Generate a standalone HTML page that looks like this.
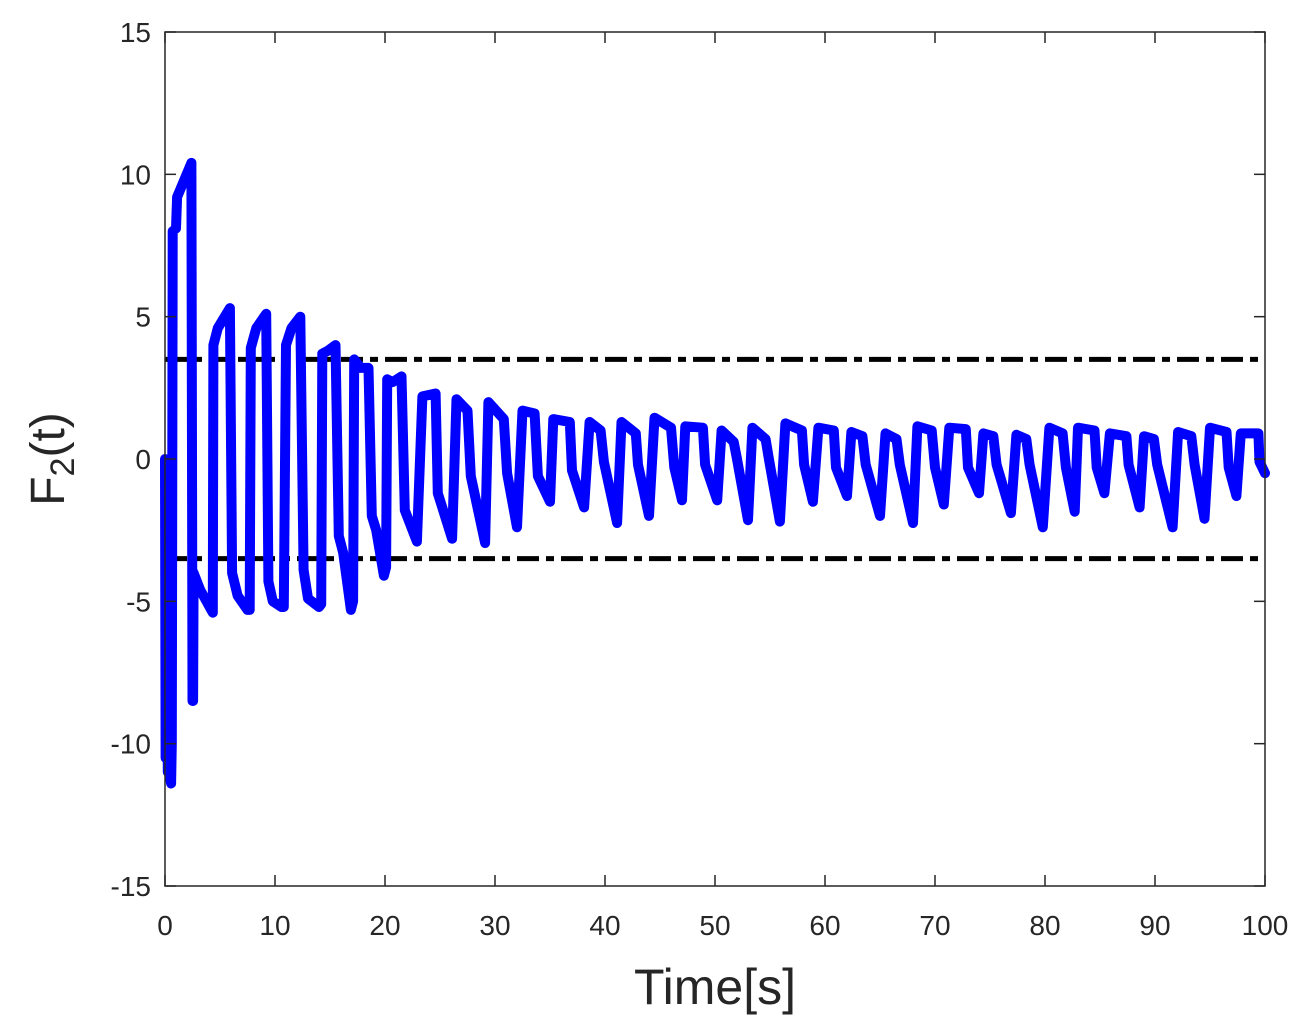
<!DOCTYPE html>
<html><head><meta charset="utf-8"><style>
body{margin:0;background:#fff;}
svg{display:block;font-family:"Liberation Sans",sans-serif;}
</style></head><body>
<svg id="chart" width="1302" height="1033">
<rect x="0" y="0" width="1302" height="1033" fill="#fff"/>
<g id="plot"></g>
<g id="axes"></g>
<text x="715" y="1004" font-size="50" text-anchor="middle" fill="#262626">Time[s]</text>
<text transform="translate(64,459) rotate(-90)" font-size="48" text-anchor="middle" fill="#262626">F<tspan font-size="34" dy="10">2</tspan><tspan dy="-10">(t)</tspan></text>
</svg>
<script>
const xTicks=[0,10,20,30,40,50,60,70,80,90,100];
const yTicks=[-15,-10,-5,0,5,10,15];
const boundValues=[3.5,-3.5];
const seriesT=[0,0.05,0.15,0.25,0.35,0.45,0.55,0.62,0.7,1.0,1.1,2.4,2.5,2.55,2.6,3.2,4.2,4.35,
4.4,4.8,5.9,6.1,6.6,7.5,7.7,
7.8,8.3,9.2,9.4,9.8,10.6,10.8,
11.0,11.5,12.3,12.6,13.0,14.0,14.2,
14.3,14.8,15.5,15.8,16.2,16.9,17.1,
17.2,17.8,18.5,18.8,19.2,19.9,20.1,
20.2,20.7,21.5,21.8,22.9,
23.4,24.6,24.8,26.1,
26.5,27.5,27.8,29.1,
29.4,30.8,31.1,32.0,
32.5,33.6,33.9,35.0,
35.3,36.8,37.0,38.1,
38.6,39.6,39.9,41.1,
41.5,42.8,43.0,44.0,
44.5,46.0,46.3,47.0,
47.3,48.9,49.1,50.2,
50.6,51.7,52.0,53.0,
53.4,54.6,54.9,55.9,
56.4,57.9,58.1,58.9,
59.4,60.8,61.0,62.0,
62.4,63.4,63.7,65.0,
65.5,66.5,66.8,68.0,
68.4,69.7,70.0,70.8,
71.3,72.8,73.0,74.0,
74.4,75.3,75.6,76.9,
77.4,78.3,78.6,79.8,
80.4,81.6,81.9,82.7,
83.0,84.5,84.7,85.4,
85.9,87.4,87.6,88.6,
89.0,89.9,90.2,91.6,
92.1,93.3,93.6,94.5,
95.0,96.5,96.7,97.4,
97.8,99.4,99.5,100];
const seriesV=[0,-10.5,-1,-11,-2,-11.2,-11.4,-10,8,8.1,9.2,10.4,-8.5,-8.5,-4,-4.6,-5.3,-5.4,
4.0,4.6,5.3,-4,-4.8,-5.3,-5.3,
3.9,4.6,5.1,-4.3,-5,-5.2,-5.2,
4.0,4.6,5.0,-3.9,-4.9,-5.2,-5.1,
3.7,3.8,4.0,-2.7,-3.3,-5.3,-5.0,
3.5,3.2,3.2,-2.0,-2.5,-4.1,-3.8,
2.8,2.7,2.9,-1.8,-2.9,
2.2,2.3,-1.2,-2.8,
2.1,1.7,-0.6,-2.95,
2.0,1.4,-0.5,-2.4,
1.7,1.6,-0.6,-1.5,
1.4,1.3,-0.4,-1.7,
1.3,1.0,-0.1,-2.25,
1.3,0.9,-0.2,-2.0,
1.45,1.1,-0.3,-1.45,
1.15,1.1,-0.2,-1.45,
1.0,0.6,0.0,-2.15,
1.1,0.7,0.0,-2.2,
1.25,1.0,-0.2,-1.5,
1.1,1.0,-0.3,-1.3,
0.95,0.8,-0.2,-2.0,
0.9,0.7,-0.2,-2.25,
1.15,1.0,-0.3,-1.6,
1.1,1.05,-0.3,-1.2,
0.9,0.8,-0.2,-1.9,
0.85,0.7,-0.2,-2.4,
1.1,0.9,-0.3,-1.85,
1.1,1.0,-0.3,-1.2,
0.9,0.8,-0.2,-1.7,
0.8,0.7,-0.2,-2.4,
0.95,0.8,-0.2,-2.1,
1.1,0.95,-0.3,-1.3,
0.9,0.9,-0.1,-0.5];

const NS='http://www.w3.org/2000/svg';
const L=165,R=1265,T=32,B=886;
const sx=t=>L+(t-0)/(100-0)*(R-L);
const sy=v=>B-(v+15)/30*(B-T);
const plot=document.getElementById('plot');
const axes=document.getElementById('axes');
function mk(tag,parent){const e=document.createElementNS(NS,tag);parent.appendChild(e);return e;}

boundValues.forEach((b,i)=>{
  const l=mk('line',plot);
  l.setAttribute('x1',L);l.setAttribute('x2',R);
  l.setAttribute('y1',sy(b));l.setAttribute('y2',sy(b));
  l.setAttribute('stroke','#000');l.setAttribute('stroke-width','5');
  l.setAttribute('stroke-dasharray','22 7 8 7');
  
  
});
let d='';
seriesT.forEach((t,i)=>{d+=(i?'L':'M')+sx(t).toFixed(1)+' '+sy(seriesV[i]).toFixed(1)+' ';});
const p=mk('path',plot);
p.setAttribute('d',d);p.setAttribute('fill','none');p.setAttribute('stroke','#0000ff');
p.setAttribute('stroke-width','10');p.setAttribute('stroke-linejoin','round');p.setAttribute('stroke-linecap','round');



const fr=mk('rect',axes);
fr.setAttribute('x',L);fr.setAttribute('y',T);fr.setAttribute('width',R-L);fr.setAttribute('height',B-T);
fr.setAttribute('fill','none');fr.setAttribute('stroke','#262626');fr.setAttribute('stroke-width','1.5');



xTicks.forEach(t=>{
  const x=sx(t);
  [[B,B-11],[T,T+11]].forEach(([a,b])=>{
    const l=mk('line',axes);l.setAttribute('x1',x);l.setAttribute('x2',x);l.setAttribute('y1',a);l.setAttribute('y2',b);
    l.setAttribute('stroke','#262626');l.setAttribute('stroke-width','1.5');
    
    
  });
  const tx=mk('text',axes);tx.setAttribute('x',x);tx.setAttribute('y',935);tx.setAttribute('font-size','28');
  tx.setAttribute('text-anchor','middle');tx.setAttribute('fill','#262626');tx.textContent=t;
  
  
});
yTicks.forEach(v=>{
  const y=sy(v);
  [[L,L+11],[R,R-11]].forEach(([a,b])=>{
    const l=mk('line',axes);l.setAttribute('y1',y);l.setAttribute('y2',y);l.setAttribute('x1',a);l.setAttribute('x2',b);
    l.setAttribute('stroke','#262626');l.setAttribute('stroke-width','1.5');
    
    
  });
  const tx=mk('text',axes);tx.setAttribute('x',151);tx.setAttribute('y',y+10);tx.setAttribute('font-size','28');
  tx.setAttribute('text-anchor','end');tx.setAttribute('fill','#262626');tx.textContent=v;
  
  
});
</script>
</body></html>
